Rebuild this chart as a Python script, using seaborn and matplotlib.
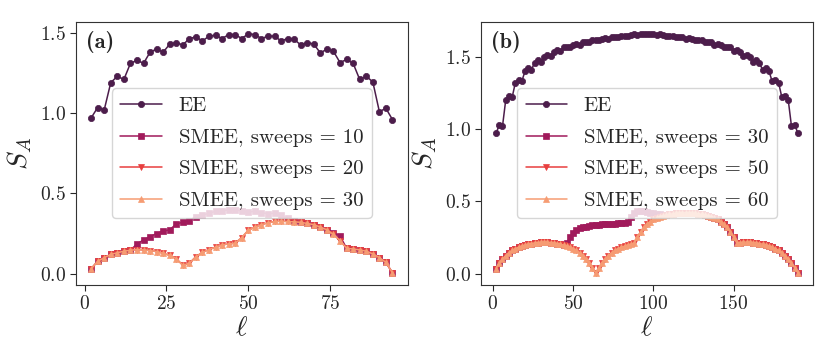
import matplotlib
matplotlib.use('Agg')
import matplotlib.pyplot as plt
import seaborn as sns

# subsystem sizes
ELL_A = list(range(2, 96, 2))
ELL_B = list(range(2, 192, 2))

# panel (a), L = 96
EE_A = [0.97, 1.035, 1.02, 1.19, 1.23, 1.21, 1.31, 1.33, 1.31, 1.38, 1.40, 1.38,
        1.43, 1.44, 1.425, 1.465, 1.475, 1.45, 1.48, 1.485, 1.465, 1.49, 1.49, 1.465,
        1.495, 1.49, 1.465, 1.48, 1.48, 1.45, 1.465, 1.46, 1.425, 1.44, 1.43, 1.375,
        1.40, 1.385, 1.315, 1.335, 1.31, 1.21, 1.23, 1.195, 1.01, 1.03, 0.96]
SMEE_A_10 = [0.03, 0.077, 0.10, 0.12, 0.13, 0.14, 0.146, 0.185, 0.21, 0.23, 0.25, 0.265,
             0.273, 0.31, 0.32, 0.33, 0.356, 0.364, 0.377, 0.3875, 0.39, 0.398, 0.398, 0.39,
             0.383, 0.39, 0.38, 0.373, 0.377, 0.3625, 0.345, 0.33, 0.32, 0.3125, 0.305, 0.29,
             0.273, 0.255, 0.235, 0.158, 0.154, 0.148, 0.14, 0.123, 0.10, 0.07, 0.005]
SMEE_A_20 = [0.03, 0.077, 0.10, 0.12, 0.13, 0.14, 0.146, 0.15, 0.148, 0.144, 0.1375, 0.127,
             0.114, 0.094, 0.052, 0.065, 0.106, 0.133, 0.15, 0.165, 0.18, 0.185, 0.19, 0.225,
             0.27, 0.29, 0.305, 0.317, 0.325, 0.327, 0.325, 0.323, 0.32, 0.3125, 0.305, 0.29,
             0.273, 0.244, 0.206, 0.158, 0.154, 0.148, 0.14, 0.123, 0.10, 0.07, 0.005]
SMEE_A_30 = [0.03, 0.077, 0.10, 0.12, 0.13, 0.14, 0.146, 0.15, 0.148, 0.144, 0.1375, 0.127,
             0.114, 0.094, 0.052, 0.065, 0.106, 0.133, 0.15, 0.165, 0.18, 0.185, 0.19, 0.225,
             0.27, 0.29, 0.305, 0.317, 0.325, 0.327, 0.325, 0.323, 0.32, 0.3125, 0.305, 0.29,
             0.273, 0.244, 0.206, 0.158, 0.154, 0.148, 0.14, 0.123, 0.10, 0.07, 0.005]
SWEEPS_A = [10, 20, 30]

# panel (b), L = 192
EE_B = [0.97, 1.03, 1.02, 1.20, 1.23, 1.22, 1.32, 1.34, 1.33, 1.40, 1.42, 1.41,
        1.46, 1.475, 1.465, 1.50, 1.515, 1.505, 1.535, 1.545, 1.54, 1.565, 1.57, 1.565,
        1.585, 1.59, 1.585, 1.60, 1.605, 1.60, 1.615, 1.62, 1.615, 1.625, 1.63, 1.625,
        1.635, 1.64, 1.635, 1.645, 1.645, 1.645, 1.65, 1.655, 1.65, 1.655, 1.66, 1.66,
        1.66, 1.655, 1.65, 1.655, 1.65, 1.645, 1.645, 1.645, 1.635, 1.64, 1.635, 1.625,
        1.63, 1.625, 1.615, 1.62, 1.615, 1.60, 1.605, 1.60, 1.585, 1.59, 1.585, 1.565,
        1.57, 1.565, 1.54, 1.545, 1.535, 1.505, 1.515, 1.50, 1.465, 1.475, 1.46, 1.41,
        1.42, 1.40, 1.33, 1.34, 1.32, 1.22, 1.23, 1.20, 1.02, 1.03, 0.97]
SMEE_B_30 = [0.035, 0.075, 0.10, 0.125, 0.145, 0.16, 0.172, 0.182, 0.19, 0.197, 0.203,
             0.208, 0.212, 0.215, 0.217, 0.218, 0.217, 0.215, 0.212, 0.208, 0.203, 0.197,
             0.21, 0.25, 0.28, 0.30, 0.313, 0.32, 0.325, 0.33, 0.333, 0.336, 0.339, 0.341,
             0.343, 0.344, 0.345, 0.346, 0.347, 0.347, 0.35, 0.36, 0.39, 0.42, 0.43, 0.435,
             0.43, 0.425, 0.42, 0.42, 0.415, 0.41, 0.405,
             0.405, 0.41, 0.413, 0.416, 0.418, 0.42, 0.42, 0.42, 0.418, 0.416, 0.413, 0.41,
             0.405, 0.40, 0.395, 0.385, 0.375, 0.36, 0.345, 0.32, 0.29, 0.25,
             0.212, 0.215, 0.217, 0.218, 0.217, 0.215, 0.212, 0.208, 0.203, 0.197, 0.19,
             0.182, 0.172, 0.16, 0.145, 0.125, 0.10, 0.075, 0.04, 0.005]
SMEE_B_50 = [0.035, 0.075, 0.10, 0.125, 0.145, 0.16, 0.172, 0.182, 0.19, 0.197, 0.203,
             0.208, 0.212, 0.215, 0.217, 0.218, 0.217, 0.215, 0.212, 0.208, 0.203, 0.197,
             0.19, 0.182, 0.172, 0.16, 0.145, 0.125, 0.10, 0.075, 0.04, 0.005,
             0.04, 0.075, 0.10, 0.125, 0.145, 0.16, 0.172, 0.182, 0.19, 0.197, 0.203, 0.21,
             0.25, 0.29, 0.32, 0.345, 0.36, 0.375, 0.385, 0.395, 0.40, 0.405, 0.41, 0.413,
             0.416, 0.418, 0.42, 0.42, 0.42, 0.418, 0.416, 0.413, 0.41, 0.405, 0.40, 0.395,
             0.385, 0.375, 0.36, 0.345, 0.32, 0.29, 0.25,
             0.212, 0.215, 0.217, 0.218, 0.217, 0.215, 0.212, 0.208, 0.203, 0.197, 0.19,
             0.182, 0.172, 0.16, 0.145, 0.125, 0.10, 0.075, 0.04, 0.005]
SMEE_B_60 = [0.035, 0.075, 0.10, 0.125, 0.145, 0.16, 0.172, 0.182, 0.19, 0.197, 0.203,
             0.208, 0.212, 0.215, 0.217, 0.218, 0.217, 0.215, 0.212, 0.208, 0.203, 0.197,
             0.19, 0.182, 0.172, 0.16, 0.145, 0.125, 0.10, 0.075, 0.04, 0.005,
             0.04, 0.075, 0.10, 0.125, 0.145, 0.16, 0.172, 0.182, 0.19, 0.197, 0.203, 0.21,
             0.25, 0.29, 0.32, 0.345, 0.36, 0.375, 0.385, 0.395, 0.40, 0.405, 0.41, 0.413,
             0.416, 0.418, 0.42, 0.42, 0.42, 0.418, 0.416, 0.413, 0.41, 0.405, 0.40, 0.395,
             0.385, 0.375, 0.36, 0.345, 0.32, 0.29, 0.25,
             0.212, 0.215, 0.217, 0.218, 0.217, 0.215, 0.212, 0.208, 0.203, 0.197, 0.19,
             0.182, 0.172, 0.16, 0.145, 0.125, 0.10, 0.075, 0.04, 0.005]
SWEEPS_B = [30, 50, 60]

MARKERS = ['o', 's', 'v', '^']


def draw_panel(ax, ell, ee, smee, sweeps, tag):
    colors = sns.color_palette('rocket', 4)
    series = [ee] + smee
    labels = ['EE'] + [f'SMEE, sweeps = {s}' for s in sweeps]
    for vals, lab, mk, col in zip(series, labels, MARKERS, colors):
        sns.lineplot(x=ell, y=vals, ax=ax, color=col, marker=mk, markersize=4.5,
                     markeredgecolor=col, markeredgewidth=0.5, linewidth=1.1, label=lab)
    ax.set_xlabel(r'$\ell$', fontsize=20, labelpad=1)
    ax.set_ylabel(r'$S_A$', fontsize=20, labelpad=4)
    ax.text(0.03, 0.925, f'({tag})', transform=ax.transAxes, family='cmb10',
            fontsize=16, va='center', ha='left')
    ax.legend(loc='center', fontsize=15, framealpha=0.8, labelspacing=0.62)
    ax.tick_params(labelsize=14, length=4)


def main():
    sns.set_style('ticks', {'axes.edgecolor': '.2'})
    plt.rcParams['font.family'] = 'serif'
    plt.rcParams['font.serif'] = ['cmr10']
    plt.rcParams['mathtext.fontset'] = 'cm'
    plt.rcParams['axes.formatter.use_mathtext'] = True
    plt.rcParams['axes.unicode_minus'] = False

    fig = plt.figure(figsize=(8.3, 3.56), dpi=100)
    ax_a = fig.add_axes([0.0916, 0.2, 0.3994, 0.7388])
    ax_b = fig.add_axes([0.5795, 0.2, 0.4, 0.7388])

    draw_panel(ax_a, ELL_A, EE_A, [SMEE_A_10, SMEE_A_20, SMEE_A_30], SWEEPS_A, 'a')
    draw_panel(ax_b, ELL_B, EE_B, [SMEE_B_30, SMEE_B_50, SMEE_B_60], SWEEPS_B, 'b')

    ax_a.set_xticks([0, 25, 50, 75])
    ax_a.set_yticks([0.0, 0.5, 1.0, 1.5])
    ax_b.set_xticks([0, 50, 100, 150])
    ax_b.set_yticks([0.0, 0.5, 1.0, 1.5])

    fig.savefig('out.png', dpi=100)
    plt.close(fig)


if __name__ == '__main__':
    main()
